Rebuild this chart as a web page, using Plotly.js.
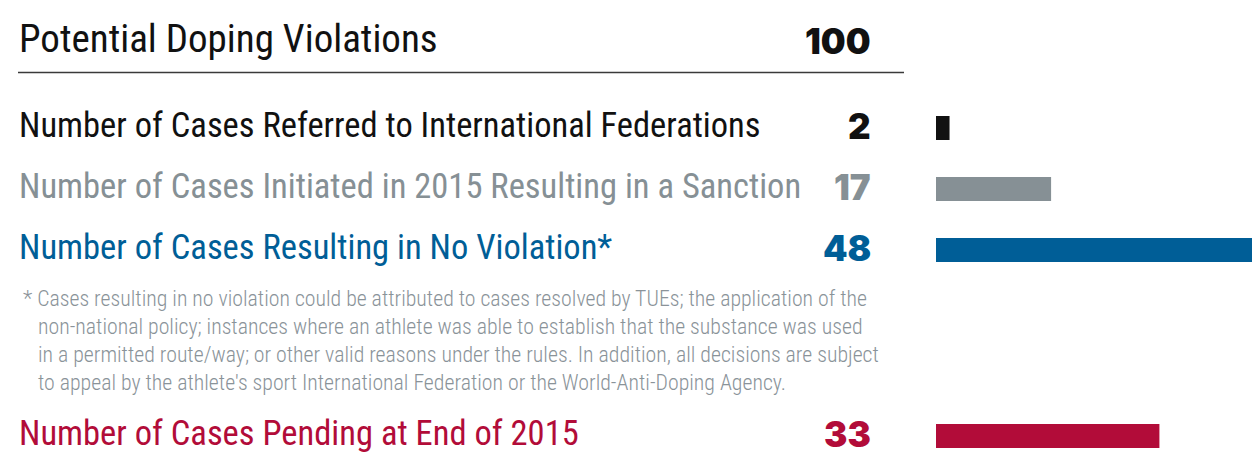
<!DOCTYPE html>
<html><head><meta charset="utf-8">
<script src="https://cdn.plot.ly/plotly-3.0.1.min.js"></script>
<style>html,body{margin:0;padding:0;background:#fff}#chart{width:1252px;height:455px}</style>
</head><body><div id="chart"></div>
<script>
const titleText = "Potential Doping Violations";
const totalValue = 100;
const categories = [
  "Number of Cases Referred to International Federations",
  "Number of Cases Initiated in 2015 Resulting in a Sanction",
  "Number of Cases Resulting in No Violation*",
  "Number of Cases Pending at End of 2015"
];
const values = [2, 17, 48, 33];
const colors = ["#111111", "#869095", "#005e97", "#b20c39"];
const footnoteLines = [
  "* Cases resulting in no violation could be attributed to cases resolved by TUEs; the application of the",
  "non-national policy; instances where an athlete was able to establish that the substance was used",
  "in a permitted route/way; or other valid reasons under the rules. In addition, all decisions are subject",
  "to appeal by the athlete's sport International Federation or the World-Anti-Doping Agency."
];

const W = 1252, H = 455;
const px = x => x / W;
const py = y => 1 - y / H;
// row slots (footnote occupies space between row 3 and row 4)
const slots = [0, 1, 2, 5.05];
const rowPx = 61, firstRowY = 128;

const labelFont = "Roboto Condensed, DejaVu Sans Condensed, sans-serif";
const numFont = "Inter, Lato, sans-serif";

const annotations = [];
annotations.push({xref:'paper', yref:'paper', x:px(17), y:py(39), xanchor:'left', yanchor:'middle',
  text:titleText, showarrow:false, font:{family:labelFont, size:39, color:'#111'}});
annotations.push({xref:'paper', yref:'paper', x:px(873), y:py(41), xanchor:'right', yanchor:'middle',
  text:String(totalValue), showarrow:false, font:{family:numFont, size:35, weight:900, color:'#111'}});
categories.forEach((c, i) => {
  annotations.push({xref:'paper', yref:'y', x:px(17), y:slots[i], xanchor:'left', yanchor:'middle', yshift:3,
    text:c, showarrow:false, font:{family:labelFont, size:34.5, color:colors[i]}});
  annotations.push({xref:'paper', yref:'y', x:px(873), y:slots[i], xanchor:'right', yanchor:'middle', yshift:2,
    text:String(values[i]), showarrow:false, font:{family:numFont, size:35, weight:900, color:colors[i]}});
});
footnoteLines.forEach((l, i) => {
  annotations.push({xref:'paper', yref:'paper', x:px(i === 0 ? 21 : 36), y:py(298 + i * 28), xanchor:'left', yanchor:'middle',
    text:l, showarrow:false, font:{family:labelFont, size:21.8, weight:300, color:'#8a9399'}});
});

const trace = {
  type:'bar', orientation:'h',
  x: values, y: slots,
  width: 24 / rowPx,
  marker:{color: colors, line:{width:0}},
  hoverinfo:'none', cliponaxis:true
};

const layout = {
  width:W, height:H, margin:{l:0, r:0, t:0, b:0},
  paper_bgcolor:'#fff', plot_bgcolor:'rgba(0,0,0,0)',
  showlegend:false,
  xaxis:{domain:[936 / W, 1], range:[0, 316 / 6.77], visible:false, fixedrange:true},
  yaxis:{range:[(H - firstRowY) / rowPx, -firstRowY / rowPx], visible:false, fixedrange:true},
  shapes:[{type:'line', xref:'paper', yref:'paper', x0:px(18), x1:px(904), y0:py(72.5), y1:py(72.5),
    line:{color:'#3a3a3a', width:1.5}}],
  annotations: annotations
};

Plotly.newPlot('chart', [trace], layout, {displayModeBar:false, staticPlot:true});
</script>
</body></html>
